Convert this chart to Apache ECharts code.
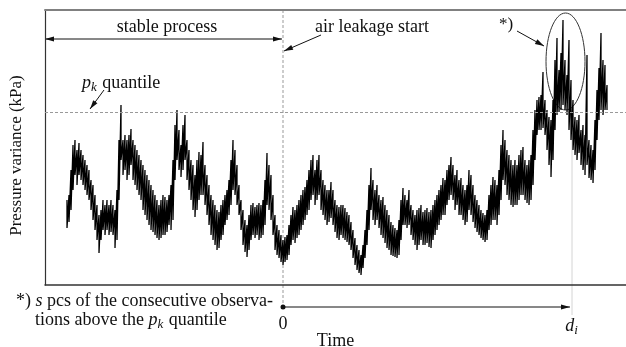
<!DOCTYPE html>
<html>
<head>
<meta charset="utf-8">
<script src="https://cdn.jsdelivr.net/npm/echarts@6/dist/echarts.min.js"></script>
<style>
  html, body { margin: 0; padding: 0; background: #fff; }
  #chart { width: 626px; height: 347px; }
</style>
</head>
<body>
<div id="chart"></div>
<script>
  // time axis: 0 = air leakage start, samples every 2 units
  var tStart = -216;
  var tStep = 2;
  var tMin = -238;
  var tMax = 343;
  var yMin = 0;
  var yMax = 275;

  // pressure variance per sample: upper and lower reading of the noisy trace
  var pressureHigh = [
    85, 90, 115, 140, 145, 135, 142, 135, 130, 125,
    120, 115, 105, 100, 90, 80, 70, 75, 85, 80,
    85, 80, 85, 80, 75, 95, 145, 180, 145, 150,
    145, 150, 156, 145, 140, 135, 130, 125, 120, 115,
    110, 105, 100, 95, 90, 85, 80, 85, 90, 88,
    85, 90, 100, 125, 160, 175, 155, 140, 160, 170,
    145, 135, 125, 120, 110, 125, 133, 130, 143, 120,
    110, 100, 90, 85, 80, 75, 73, 80, 85, 90,
    95, 105, 125, 145, 135, 120, 100, 85, 75, 65,
    60, 70, 80, 82, 78, 80, 82, 80, 85, 105,
    132, 120, 110, 90, 70, 60, 55, 50, 45, 48,
    50, 60, 70, 78, 75, 80, 85, 90, 95, 98,
    105, 115, 125, 130, 115, 125, 130, 115, 105, 100,
    95, 95, 103, 95, 85, 80, 78, 80, 80, 77,
    73, 70, 63, 55, 47, 40, 35, 30, 40, 55,
    75, 100, 117, 105, 95, 100, 90, 85, 88, 80,
    75, 70, 63, 60, 57, 55, 65, 85, 97, 90,
    85, 95, 80, 75, 70, 75, 77, 80, 73, 75,
    77, 73, 75, 80, 85, 90, 95, 100, 107, 105,
    115, 120, 128, 120, 110, 115, 105, 107, 100, 95,
    100, 115, 110, 100, 90, 85, 80, 75, 72, 70,
    75, 90, 100, 108, 105, 100, 115, 140, 155, 145,
    135, 130, 125, 120, 125, 120, 130, 135, 138, 125,
    120, 125, 130, 155, 175, 185, 188, 190, 213, 185,
    175, 168, 165, 185, 225, 247, 215, 232, 265, 225,
    210, 245, 205, 185, 168, 165, 170, 155, 160, 150,
    230, 145, 140, 135, 165, 195, 217, 252, 225, 220, 200
  ];
  var pressureLow = [
    57, 63, 75, 95, 110, 100, 110, 105, 100, 95,
    90, 85, 75, 65, 55, 45, 32, 45, 55, 50,
    55, 50, 53, 50, 37, 45, 85, 125, 110, 115,
    105, 110, 120, 105, 100, 95, 90, 85, 75, 70,
    65, 60, 55, 53, 50, 47, 45, 47, 50, 50,
    53, 60, 55, 65, 105, 125, 115, 108, 115, 125,
    105, 95, 85, 75, 68, 75, 85, 90, 90, 80,
    70, 60, 50, 45, 40, 35, 37, 45, 50, 60,
    65, 70, 80, 95, 90, 80, 70, 55, 40, 33,
    28, 35, 45, 50, 47, 50, 45, 47, 50, 60,
    80, 75, 65, 50, 35, 30, 27, 23, 20, 23,
    25, 30, 40, 45, 42, 47, 50, 55, 60, 65,
    70, 75, 85, 90, 80, 85, 90, 75, 70, 65,
    60, 63, 67, 60, 53, 47, 45, 50, 47, 45,
    43, 40, 35, 27, 20, 15, 12, 10, 17, 27,
    40, 55, 75, 65, 60, 65, 57, 50, 47, 42,
    37, 35, 30, 29, 28, 27, 30, 45, 60, 60,
    57, 60, 50, 45, 40, 35, 40, 45, 40, 40,
    42, 38, 37, 45, 50, 55, 60, 65, 70, 70,
    80, 85, 90, 85, 75, 80, 70, 70, 65, 60,
    63, 75, 70, 63, 57, 53, 50, 47, 45, 43,
    45, 55, 60, 65, 65, 60, 70, 85, 105, 100,
    90, 85, 80, 78, 80, 80, 85, 90, 90, 85,
    82, 80, 85, 100, 125, 150, 155, 155, 157, 150,
    135, 120, 108, 125, 155, 170, 173, 175, 180, 175,
    170, 155, 145, 135, 130, 125, 132, 120, 115, 110,
    120, 107, 105, 102, 115, 145, 165, 175, 170, 175, 175
  ];

  var pkQuantile = 173;
  var leakStart = 0;
  var dI = 289;

  var serif = 'Liberation Serif, DejaVu Serif, serif';
  var ink = '#111';

  var seriesData = [];
  pressureHigh.forEach(function (hi, i) {
    var t = tStart + i * tStep;
    seriesData.push([t, hi], [t, pressureLow[i]]);
  });

  var myChart = echarts.init(document.getElementById('chart'));

  var option = {
    animation: false,
    grid: { left: 45, top: 10, right: 0, bottom: 62, outerBoundsMode: 'none' },
    xAxis: [
      {
        type: 'value',
        min: tMin,
        max: tMax,
        name: 'Time',
        nameLocation: 'middle',
        nameGap: 47,
        nameTextStyle: { fontFamily: serif, fontSize: 18, color: ink },
        axisLine: { lineStyle: { color: '#333', width: 1.5 } },
        axisTick: { show: false },
        axisLabel: { show: false },
        splitLine: { show: false }
      },
      {
        type: 'value',
        position: 'top',
        min: tMin,
        max: tMax,
        axisLine: { onZero: false, lineStyle: { color: '#808080', width: 2 } },
        axisTick: { show: false },
        axisLabel: { show: false },
        splitLine: { show: false }
      }
    ],
    yAxis: {
      type: 'value',
      min: yMin,
      max: yMax,
      name: 'Pressure variance (kPa)',
      nameLocation: 'middle',
      nameGap: 20,
      nameTextStyle: { fontFamily: serif, fontSize: 17, color: ink, padding: [0, 16, 0, 0] },
      axisLine: { show: true, onZero: false, lineStyle: { color: '#333', width: 1.2 } },
      axisTick: { show: false },
      axisLabel: { show: false },
      splitLine: { show: false }
    },
    series: [{
      type: 'line',
      data: seriesData,
      showSymbol: false,
      lineStyle: { color: '#000', width: 1.3 },
      markLine: {
        silent: true,
        symbol: 'none',
        label: { show: false },
        lineStyle: { color: '#999', type: [3, 2], width: 1 },
        data: [{ yAxis: pkQuantile }]
      }
    }]
  };

  myChart.setOption(option);

  function px(t, v) {
    var p = myChart.convertToPixel({ xAxisIndex: 0, yAxisIndex: 0 }, [t, v]);
    return [p[0], p[1]];
  }

  function arrowHead(x1, y1, x2, y2) {
    var a = Math.atan2(y2 - y1, x2 - x1);
    var len = 9, w = 2.6;
    var bx = x2 - len * Math.cos(a), by = y2 - len * Math.sin(a);
    var nx = -Math.sin(a) * w, ny = Math.cos(a) * w;
    return {
      type: 'polygon',
      shape: { points: [[x2, y2], [bx + nx, by + ny], [bx - nx, by - ny]] },
      style: { fill: ink }
    };
  }

  function arrow(x1, y1, x2, y2, both) {
    var els = [{
      type: 'line',
      shape: { x1: x1, y1: y1, x2: x2, y2: y2 },
      style: { stroke: ink, lineWidth: 1 }
    }, arrowHead(x1, y1, x2, y2)];
    if (both) els.push(arrowHead(x2, y2, x1, y1));
    return els;
  }

  function label(text, x, y, align, size, rich) {
    return {
      type: 'text',
      x: x,
      y: y,
      style: {
        text: text,
        font: size + 'px ' + serif,
        fill: ink,
        align: align || 'left',
        verticalAlign: 'middle',
        rich: rich || {}
      }
    };
  }

  function richFor(size) {
    return {
      i: { fontFamily: serif, fontSize: size, fontStyle: 'italic' },
      sub: { fontFamily: serif, fontSize: Math.round(size * 0.7), fontStyle: 'italic', padding: [9, 1, 0, 0] }
    };
  }

  var topPt = px(leakStart, yMax);
  var botPt = px(leakStart, yMin);
  var x0 = topPt[0];
  var yTop = topPt[1];
  var yBot = botPt[1];
  var xd = px(dI, yMin)[0];
  var gridLeft = px(tMin, yMin)[0];
  var yPk = px(dI, pkQuantile)[1];
  var yTime = yBot + 22;

  var g = [];
  // air leakage start / time origin
  g.push({
    type: 'line',
    shape: { x1: x0, y1: yTop, x2: x0, y2: yTime },
    style: { stroke: '#999', lineWidth: 1, lineDash: [3, 2] }
  });
  // d_i marker
  g.push({
    type: 'line',
    shape: { x1: xd, y1: yPk, x2: xd, y2: yBot + 30 },
    style: { stroke: '#d4d4d4', lineWidth: 1 }
  });

  g = g.concat(arrow(gridLeft, yTop + 29, x0 - 1, yTop + 29, true));
  g.push(label('stable process', (gridLeft + x0) / 2 + 3, yTop + 17, 'center', 18));

  g.push(label('air leakage start', x0 + 32, yTop + 17, 'left', 18));
  g = g.concat(arrow(x0 + 38, yTop + 25, x0 + 1, yTop + 41));

  g.push(label('{i|p}{sub|k} quantile', 82, 83, 'left', 18, richFor(18)));
  g = g.concat(arrow(104, 90, 90, yPk - 3));

  g.push(label('*)', xd - 73, 25, 'left', 17));
  g = g.concat(arrow(xd - 55, 31, xd - 28, 46));
  g.push({
    type: 'ellipse',
    shape: { cx: xd - 6.5, cy: 61.5, rx: 19.5, ry: 48.5 },
    style: { fill: 'none', stroke: '#333', lineWidth: 1 }
  });

  // time arrow below the axis
  g.push({ type: 'circle', shape: { cx: x0, cy: yTime, r: 2.5 }, style: { fill: ink } });
  g = g.concat(arrow(x0, yTime, xd - 2, yTime));
  g.push(label('0', x0, yBot + 39, 'center', 18));
  g.push(label('{i|d}{sub|i}', xd, yBot + 41, 'center', 18, richFor(18)));

  g.push(label('*) {i|s} pcs of the consecutive observa-', 16, yBot + 16, 'left', 18, richFor(18)));
  g.push(label('tions above the {i|p}{sub|k} quantile', 35, yBot + 35, 'left', 18, richFor(18)));

  myChart.setOption({ graphic: g });

  window.addEventListener('resize', function () {
    myChart.resize();
  });
</script>
</body>
</html>
